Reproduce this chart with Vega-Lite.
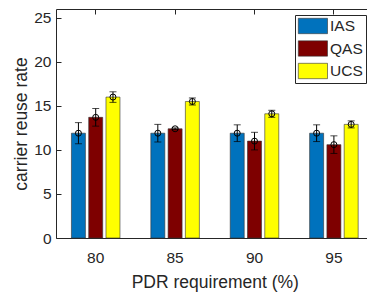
{
  "$schema": "https://vega.github.io/schema/vega-lite/v6.json",
  "autosize": "none",
  "padding": {"left": 56, "top": 9, "right": 0, "bottom": 57},
  "width": 311,
  "height": 229,
  "background": "white",
  "config": {
    "font": "Liberation Sans",
    "view": {"stroke": "#262626", "strokeWidth": 1},
    "axis": {"grid": false, "domainColor": "#262626", "tickColor": "#262626", "labelColor": "#262626", "titleColor": "#262626", "labelFontSize": 15.5, "titleFontSize": 17.5, "titleFontWeight": "normal"}
  },
  "resolve": {"axis": {"x": "independent"}},
  "data": {"values": [
    {"pdr": "80", "scheme": "IAS", "mean": 11.9, "lo": 10.7, "hi": 13.1},
    {"pdr": "80", "scheme": "QAS", "mean": 13.7, "lo": 12.7, "hi": 14.7},
    {"pdr": "80", "scheme": "UCS", "mean": 16.0, "lo": 15.4, "hi": 16.6},
    {"pdr": "85", "scheme": "IAS", "mean": 11.9, "lo": 10.9, "hi": 12.9},
    {"pdr": "85", "scheme": "QAS", "mean": 12.4, "lo": 12.3, "hi": 12.5},
    {"pdr": "85", "scheme": "UCS", "mean": 15.5, "lo": 15.1, "hi": 15.9},
    {"pdr": "90", "scheme": "IAS", "mean": 11.9, "lo": 10.95, "hi": 12.85},
    {"pdr": "90", "scheme": "QAS", "mean": 11.0, "lo": 10.0, "hi": 12.0},
    {"pdr": "90", "scheme": "UCS", "mean": 14.1, "lo": 13.7, "hi": 14.5},
    {"pdr": "95", "scheme": "IAS", "mean": 11.9, "lo": 10.95, "hi": 12.85},
    {"pdr": "95", "scheme": "QAS", "mean": 10.6, "lo": 9.6, "hi": 11.6},
    {"pdr": "95", "scheme": "UCS", "mean": 12.9, "lo": 12.5, "hi": 13.3}
  ]},
  "encoding": {
    "xOffset": {"field": "scheme", "type": "nominal", "scale": {"paddingInner": 0.19, "paddingOuter": 0.1}}
  },
  "layer": [
    {
      "mark": {"type": "bar", "stroke": "#333333", "strokeWidth": 0.6},
      "encoding": {
        "x": {"field": "pdr", "type": "nominal", "title": "PDR requirement (%)",
          "scale": {"range": [0, 317.6], "paddingInner": 0.345, "paddingOuter": 0.1725},
          "axis": {"labelAngle": 0, "tickSize": -5, "labelPadding": 17, "titlePadding": 8, "domain": false}},
        "y": {"field": "mean", "type": "quantitative", "title": "carrier reuse rate",
          "scale": {"domain": [0, 25]},
          "axis": {"values": [0, 5, 10, 15, 20, 25], "tickSize": -5, "labelPadding": 10, "titlePadding": 3, "domain": false}},
        "color": {"field": "scheme", "type": "nominal", "title": null,
          "scale": {"domain": ["IAS", "QAS", "UCS"], "range": ["#0072BD", "#7E0000", "#FFFF00"]},
          "legend": {"orient": "none", "legendX": 239, "legendY": 6, "fillColor": "white", "strokeColor": "#262626",
            "padding": 3, "symbolType": "M-1,-1H2.8V1H-1Z", "symbolSize": 236, "symbolStrokeColor": "#333333", "symbolStrokeWidth": 0.6,
            "symbolOpacity": 1, "labelFontSize": 15.5, "labelColor": "#262626", "labelOffset": 16, "rowPadding": 4.5}}
      }
    },
    {
      "mark": {"type": "rule", "color": "black", "strokeWidth": 1},
      "encoding": {"x": {"field": "pdr", "type": "nominal", "axis": null}, "y": {"field": "lo", "type": "quantitative"}, "y2": {"field": "hi"}}
    },
    {
      "mark": {"type": "tick", "color": "black", "size": 7, "thickness": 1},
      "encoding": {"x": {"field": "pdr", "type": "nominal", "axis": null}, "y": {"field": "lo", "type": "quantitative"}}
    },
    {
      "mark": {"type": "tick", "color": "black", "size": 7, "thickness": 1},
      "encoding": {"x": {"field": "pdr", "type": "nominal", "axis": null}, "y": {"field": "hi", "type": "quantitative"}}
    },
    {
      "mark": {"type": "point", "shape": "circle", "filled": false, "color": "black", "size": 36, "strokeWidth": 1, "opacity": 1},
      "encoding": {
        "x": {"field": "pdr", "type": "nominal", "axis": {"orient": "top", "labels": false, "title": null, "tickSize": -5, "domain": false}},
        "y": {"field": "mean", "type": "quantitative"}}
    }
  ]
}
